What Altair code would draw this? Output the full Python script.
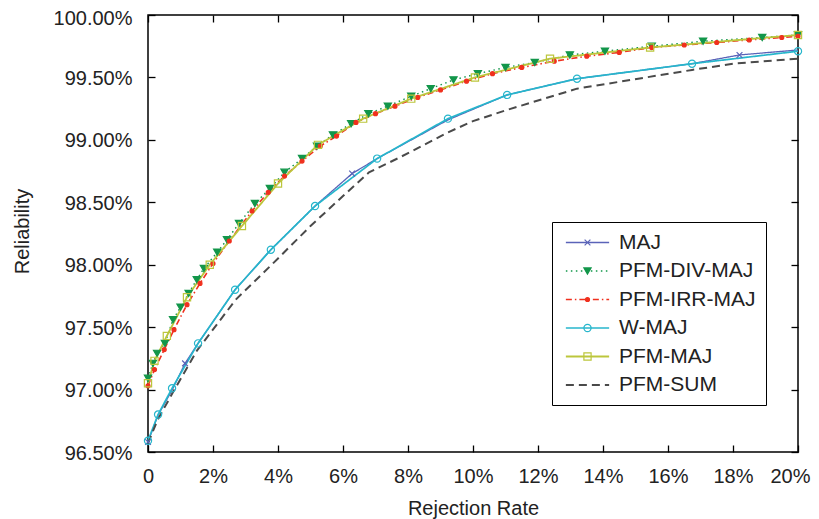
import altair as alt
import pandas as pd

# ---------------- data ----------------
series_names = ["MAJ", "PFM-DIV-MAJ", "PFM-IRR-MAJ", "W-MAJ", "PFM-MAJ", "PFM-SUM"]

maj_x = [0, 0.3, 0.75, 1.14, 1.54, 2.68, 3.78, 5.14, 6.28, 7.05, 9.23, 11.05, 13.2, 16.74, 18.2, 20]
maj_y = [96.58, 96.79, 97.0, 97.21, 97.37, 97.8, 98.12, 98.47, 98.73, 98.85, 99.16, 99.36, 99.49, 99.61, 99.68, 99.72]
maj_m = [1, 0, 0, 1, 0, 0, 0, 0, 1, 0, 0, 0, 0, 0, 1, 0]

div_x = [0, 0.15, 0.28, 0.52, 0.77, 1.0, 1.25, 1.5, 1.72, 2.13, 2.43, 2.8, 3.29, 3.75, 4.2, 4.74, 5.2,
         5.69, 6.25, 6.78, 7.38, 8.1, 8.7, 9.4, 10.15, 11.0, 11.9, 12.98, 14.06, 15.5, 17.08, 18.9, 20]
div_y = [97.09, 97.21, 97.29, 97.37, 97.56, 97.66, 97.77, 97.88, 97.97, 98.10, 98.20, 98.33, 98.49, 98.61,
         98.74, 98.85, 98.95, 99.04, 99.13, 99.21, 99.27, 99.35, 99.41, 99.48, 99.53, 99.58, 99.62, 99.68,
         99.71, 99.75, 99.79, 99.82, 99.84]
div_m = [1] * len(div_x)

irr_x = [0, 0.2, 0.5, 0.8, 1.2, 1.6, 2.0, 2.5, 3.2, 3.7, 4.2, 4.74, 5.3, 5.8, 6.4, 7.0, 7.6, 8.3, 9.0,
         9.8, 10.6, 11.5, 12.5, 13.5, 14.5, 15.5, 16.5, 17.5, 18.5, 19.5, 20]
irr_y = [97.03, 97.16, 97.32, 97.48, 97.68, 97.85, 98.01, 98.19, 98.43, 98.58, 98.71, 98.83, 98.95, 99.03,
         99.14, 99.21, 99.27, 99.34, 99.40, 99.47, 99.53, 99.58, 99.63, 99.67, 99.70, 99.74, 99.76, 99.78,
         99.80, 99.82, 99.83]
irr_m = [1] * len(irr_x)

wmaj_x = [0, 0.31, 0.74, 1.54, 2.68, 3.78, 5.14, 7.05, 9.23, 11.05, 13.2, 16.74, 20]
wmaj_y = [96.59, 96.80, 97.01, 97.37, 97.80, 98.12, 98.47, 98.85, 99.17, 99.36, 99.49, 99.61, 99.71]
wmaj_m = [1] * len(wmaj_x)

pfm_x = [0, 0.2, 0.58, 1.2, 1.9, 2.89, 4.0, 5.23, 6.62, 8.1, 10.06, 12.37, 15.45, 20]
pfm_y = [97.05, 97.23, 97.43, 97.74, 98.0, 98.31, 98.65, 98.96, 99.17, 99.33, 99.50, 99.65, 99.74, 99.84]
pfm_m = [1] * len(pfm_x)

sum_x = [0, 0.3, 0.75, 1.5, 2.7, 4.0, 5.0, 6.0, 6.8, 7.75, 9.23, 10.0, 11.05, 13.2, 16.74, 18.0, 20]
sum_y = [96.57, 96.76, 96.97, 97.31, 97.72, 98.05, 98.31, 98.55, 98.74, 98.86, 99.06, 99.15, 99.24, 99.41,
         99.56, 99.61, 99.65]
sum_m = [0] * len(sum_x)

x_ticks = [0, 2, 4, 6, 8, 10, 12, 14, 16, 18, 20]
y_ticks = [96.5, 97.0, 97.5, 98.0, 98.5, 99.0, 99.5, 100.0]

# ---------------- styles ----------------
line_colors = ["#5a63b8", "#12964a", "#f0301e", "#26b6cc", "#bcc63c", "#4a4a4a"]
dashes = [[1, 0], [1.5, 3.5], [6, 3, 1.5, 3], [1, 0], [1, 0], [8, 5]]
widths = [1.3, 2.0, 1.3, 1.3, 1.3, 1.3]
DOT = "M0.55,0A0.55,0.55,0,1,1,-0.55,0A0.55,0.55,0,1,1,0.55,0Z"
m_shapes = ["M-0.8,-0.8L0.8,0.8M-0.8,0.8L0.8,-0.8", "triangle-down", DOT, "circle", "square", "circle"]
m_fill = ["transparent", "#12964a", "#f0301e", "transparent", "transparent", "transparent"]
m_stroke = ["#5a63b8", "#12964a", "#f0301e", "#26b6cc", "#bcc63c", "transparent"]
# marker legend uses a distinct domain (trailing space) so it is not merged with the line legend
marker_names = [n + " " for n in series_names]
MSIZE = 52

FONT = "Liberation Sans"

rows = []
for name, xs, ys, ms in [
    ("MAJ", maj_x, maj_y, maj_m),
    ("PFM-DIV-MAJ", div_x, div_y, div_m),
    ("PFM-IRR-MAJ", irr_x, irr_y, irr_m),
    ("W-MAJ", wmaj_x, wmaj_y, wmaj_m),
    ("PFM-MAJ", pfm_x, pfm_y, pfm_m),
    ("PFM-SUM", sum_x, sum_y, sum_m),
]:
    for xv, yv, mv in zip(xs, ys, ms):
        rows.append({"series": name, "x": xv, "y": yv, "marker": mv})
df = pd.DataFrame(rows)

xscale = alt.Scale(domain=[0, 20], nice=False)
yscale = alt.Scale(domain=[96.5, 100], nice=False, zero=False)

x_axis = alt.Axis(
    orient="bottom", values=x_ticks, offset=-7, tickSize=7, tickColor="black", tickWidth=1.3,
    domain=False, grid=False, labelFontSize=20, labelFont=FONT, labelColor="#222", labelFlush=False,
    labelOffset={"condition": {"test": "datum.value == 20", "value": -8}, "value": 0},
    labelPadding=14, labelExpr="datum.value == 0 ? '0' : format(datum.value, 'd') + '%'",
    title="Rejection Rate", titleFontSize=20, titleFont=FONT, titleFontWeight="normal",
    titleColor="#222", titlePadding=12,
)
y_axis = alt.Axis(
    orient="left", values=y_ticks, offset=-7, tickSize=7, tickColor="black", tickWidth=1.3,
    domain=False, grid=False, labelFontSize=20, labelFont=FONT, labelColor="#222", labelFlush=False,
    labelOffset={"condition": {"test": "datum.value == 100", "value": 3}, "value": 1},
    labelPadding=16, labelExpr="format(datum.value, '.2f') + '%'",
    title="Reliability", titleFontSize=20, titleFont=FONT, titleFontWeight="normal",
    titleColor="#222", titleX=-133, titleY=216, titleAlign="center", titleBaseline="middle",
)

line_legend = alt.Legend(
    title=None, orient="none", legendX=404, legendY=207, symbolType="M-6,0L6,0",
    symbolSize=MSIZE, symbolStrokeWidth=1.4, labelFontSize=21, labelFont=FONT, labelColor="#222",
    labelOffset=21, symbolOffset=15, padding=10, rowPadding=6.5, strokeColor="black",
)
mark_legend = alt.Legend(
    title=None, orient="none", legendX=404, legendY=207, symbolStrokeWidth=1.2, symbolSize=MSIZE,
    labelFontSize=21, labelFont=FONT, labelColor="transparent", labelOffset=21,
    symbolOffset=15, padding=10, rowPadding=6.5,
)

base = alt.Chart(df)

lines = base.mark_line().encode(
    x=alt.X("x:Q", scale=xscale, axis=x_axis),
    y=alt.Y("y:Q", scale=yscale, axis=y_axis),
    color=alt.Color("series:N", scale=alt.Scale(domain=series_names, range=line_colors), legend=line_legend),
    strokeDash=alt.StrokeDash("series:N", scale=alt.Scale(domain=series_names, range=dashes), legend=line_legend),
    strokeWidth=alt.StrokeWidth("series:N", scale=alt.Scale(domain=series_names, range=widths), legend=None),
    order="x:Q",
)

points = base.transform_filter("datum.marker == 1").transform_calculate(
    series_m="datum.series + ' '"
).mark_point(strokeWidth=1.2, opacity=1, size=MSIZE).encode(
    x=alt.X("x:Q", scale=xscale, axis=None),
    y=alt.Y("y:Q", scale=yscale, axis=None),
    shape=alt.Shape("series_m:N", scale=alt.Scale(domain=marker_names, range=m_shapes), legend=mark_legend),
    fill=alt.Fill("series_m:N", scale=alt.Scale(domain=marker_names, range=m_fill), legend=mark_legend),
    stroke=alt.Stroke("series_m:N", scale=alt.Scale(domain=marker_names, range=m_stroke), legend=mark_legend),
)

ghost = base.mark_point(opacity=0).encode(
    x=alt.X("x:Q", scale=xscale, axis=alt.Axis(
        orient="top", values=x_ticks, offset=-7, tickSize=7, tickColor="black", tickWidth=1.3,
        domain=False, grid=False, labels=False, title=None)),
    y=alt.Y("y:Q", scale=yscale, axis=alt.Axis(
        orient="right", values=y_ticks, offset=-7, tickSize=7, tickColor="black", tickWidth=1.3,
        domain=False, grid=False, labels=False, title=None)),
)

chart = alt.layer(lines, points, ghost).resolve_axis(
    x="independent", y="independent"
).properties(
    width=650, height=437,
    autosize=alt.AutoSizeParams(type="none"),
    padding={"left": 140, "top": 7, "right": 13, "bottom": 67},
    background="white",
).configure_view(stroke="black", strokeWidth=1.5)

chart.save("out.html", embed_options={"renderer": "svg", "actions": False})
